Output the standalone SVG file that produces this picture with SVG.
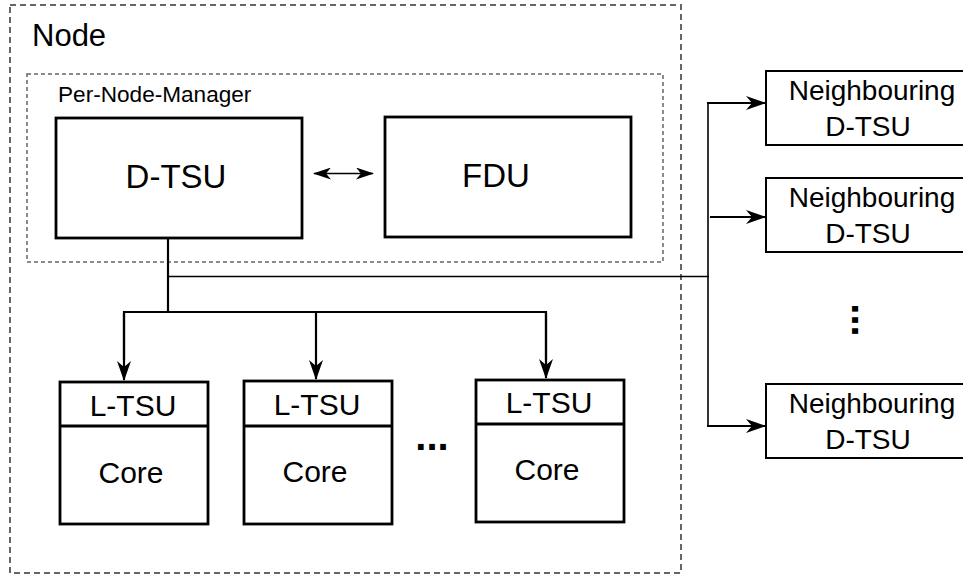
<svg xmlns="http://www.w3.org/2000/svg" width="963" height="575" viewBox="0 0 963 575">
<defs>
<style>
text{font-family:"Liberation Sans",Arial,sans-serif;fill:#000}
.box{fill:#fff;stroke:#000;stroke-width:2.8}
.nb{fill:#fff;stroke:#000;stroke-width:2}
.outer{fill:none;stroke:#666;stroke-width:2;stroke-dasharray:6 4}
.inner{fill:none;stroke:#666;stroke-width:1.5;stroke-dasharray:4 3}
.c{fill:none;stroke:#000;stroke-width:2.2}
.thin{fill:none;stroke:#000;stroke-width:1.3}
.mid{text-anchor:middle}
</style>
<marker id="arr" viewBox="0 0 20 14" refX="19" refY="7" markerWidth="20" markerHeight="14" orient="auto" markerUnits="userSpaceOnUse"><path d="M0,0 L20,7 L0,14 L6,7 Z" fill="#000"/></marker>
<marker id="arrs" viewBox="0 0 18 12" refX="17" refY="6" markerWidth="18" markerHeight="12" orient="auto-start-reverse" markerUnits="userSpaceOnUse"><path d="M0,0 L18,6 L0,12 L5,6 Z" fill="#000"/></marker>
</defs>
<rect width="963" height="575" fill="#fff"/>

<g id="node">
<rect class="outer" x="10" y="5" width="671" height="568"/>
<text x="32" y="46" font-size="31">Node</text>
</g>
<g id="per-node-manager">
<rect class="inner" x="27" y="74" width="636" height="188"/>
<text x="58" y="102" font-size="22.6">Per-Node-Manager</text>
</g>
<g id="dtsu">
<rect class="box" x="56" y="118" width="246" height="120"/>
<text class="mid" x="176" y="188" font-size="33">D-TSU</text>
</g>
<g id="fdu">
<rect class="box" x="385" y="117" width="246" height="120"/>
<text class="mid" x="496" y="187" font-size="33">FDU</text>
</g>

<g id="core1">
<rect class="box" x="60" y="382" width="148" height="142"/>
<line x1="60" y1="426" x2="208" y2="426" stroke="#000" stroke-width="2.8"/>
<text class="mid" x="133" y="416" font-size="30">L-TSU</text>
<text class="mid" x="131" y="483" font-size="30">Core</text>
</g>
<g id="core2">
<rect class="box" x="244" y="381" width="148" height="143"/>
<line x1="244" y1="426" x2="392" y2="426" stroke="#000" stroke-width="2.8"/>
<text class="mid" x="317" y="415" font-size="30">L-TSU</text>
<text class="mid" x="315" y="482" font-size="30">Core</text>
</g>
<g id="core3">
<rect class="box" x="476" y="380" width="148" height="142"/>
<line x1="476" y1="424" x2="624" y2="424" stroke="#000" stroke-width="2.8"/>
<text class="mid" x="549" y="413" font-size="30">L-TSU</text>
<text class="mid" x="547" y="480" font-size="30">Core</text>
</g>
<g id="core-ellipsis">
<text class="mid" x="432" y="450" font-size="40" font-weight="bold">...</text>
</g>

<g id="neighbour1">
<rect class="nb" x="766" y="71" width="210" height="74"/>
<text class="mid" x="872" y="100" font-size="28">Neighbouring</text>
<text class="mid" x="868" y="136" font-size="28">D-TSU</text>
</g>
<g id="neighbour2">
<rect class="nb" x="766" y="178" width="210" height="74"/>
<text class="mid" x="872" y="207" font-size="28">Neighbouring</text>
<text class="mid" x="868" y="243" font-size="28">D-TSU</text>
</g>
<g id="neighbour3">
<rect class="nb" x="766" y="384" width="210" height="74"/>
<text class="mid" x="872" y="413" font-size="28">Neighbouring</text>
<text class="mid" x="868" y="449" font-size="28">D-TSU</text>
</g>
<g id="neighbour-ellipsis">
<text class="mid" font-size="40" font-weight="bold" transform="translate(852,320) rotate(90)" x="0" y="0">...</text>
</g>

<g id="connectors">
<line class="thin" x1="314" y1="173.5" x2="373" y2="173.5" marker-start="url(#arrs)" marker-end="url(#arrs)"/>
<polyline class="c" points="168,238 168,312"/>
<polyline class="c" points="124,360 124,312 546,312 546,360"/>
<line class="c" x1="316" y1="312" x2="316" y2="379" marker-end="url(#arr)"/>
<line class="c" x1="124" y1="313" x2="124" y2="380" marker-end="url(#arr)"/>
<line class="c" x1="546" y1="313" x2="546" y2="378" marker-end="url(#arr)"/>
<line class="thin" x1="168" y1="276.5" x2="709" y2="276.5"/>
<line x1="708" y1="102" x2="708" y2="427" stroke="#000" stroke-width="1.6"/>
<line class="c" x1="707" y1="103" x2="765" y2="103" marker-end="url(#arr)"/>
<line class="c" x1="710" y1="217" x2="765" y2="217" marker-end="url(#arr)"/>
<line class="c" x1="707" y1="426" x2="765" y2="426" marker-end="url(#arr)"/>
</g>
</svg>
